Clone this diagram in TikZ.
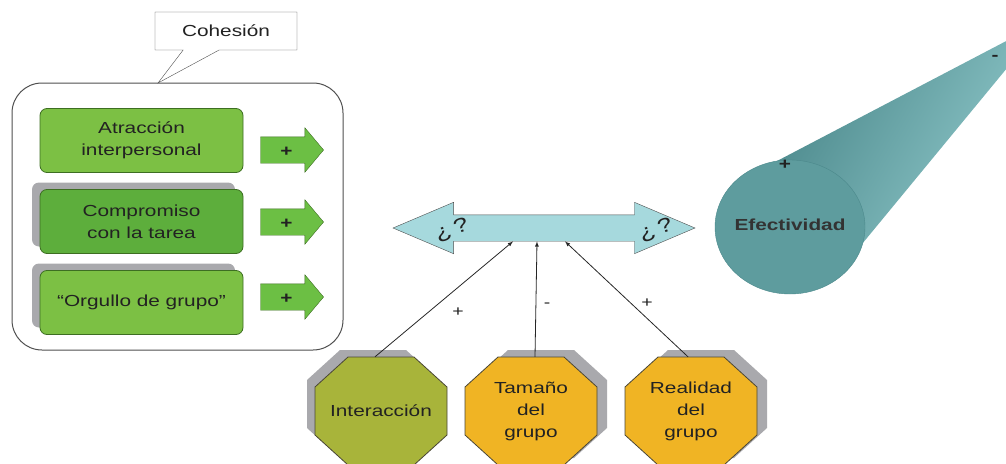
\documentclass[tikz,border=0pt]{standalone}
\usepackage{fontspec}
\setmainfont[FakeStretch=1.3]{Liberation Sans}
\usetikzlibrary{shapes.arrows,shapes.callouts,shadows}
\definecolor{boxgreen}{HTML}{7CC044}
\definecolor{boxgreendark}{HTML}{5DAE3C}
\definecolor{boxborder}{HTML}{3D6E22}
\definecolor{arrowgreen}{HTML}{6CBF44}
\definecolor{olivefill}{HTML}{A8B43A}
\definecolor{amberfill}{HTML}{F0B424}
\definecolor{octborder}{HTML}{4A4636}
\definecolor{cyanfill}{HTML}{A6D9DD}
\definecolor{shadowgray}{HTML}{A9A9AD}
\definecolor{framegray}{HTML}{4F4F4F}
\definecolor{tealface}{HTML}{5E9C9E}
\definecolor{tealdark}{HTML}{4C898C}
\definecolor{teallight}{HTML}{8CC5C7}
\definecolor{textdark}{HTML}{222222}

\begin{document}
\begin{tikzpicture}[x=1pt,y=-1pt,font=\fontsize{16}{22}\selectfont,text=textdark,
    greenbox/.style={draw=boxborder,fill=#1,rounded corners=7pt,minimum width=203pt,
      minimum height=64pt,align=center,line width=0.8pt},
    plusarrow/.style={single arrow,draw=boxborder,fill=arrowgreen,minimum height=63pt,
      minimum width=44pt,single arrow head extend=9pt,single arrow tip angle=100,
      inner xsep=0pt,inner ysep=7pt,text height=12pt,text depth=0pt,
      font=\fontsize{16}{16}\selectfont\bfseries},
    octtext/.style={minimum width=132pt,minimum height=108pt,inner sep=0pt,align=center},
    grayshadow/.style={general shadow={fill=shadowgray,shadow xshift=#1,shadow yshift=7pt}},
    link/.style={-latex,line width=0.8pt,draw=black!85},
    sign/.style={font=\fontsize{15}{15}\selectfont},
    query/.style={rotate=20,inner sep=0pt,font=\fontsize{20}{20}\selectfont}]
  \useasboundingbox (0,0) rectangle (1006,463);
  \clip (0,0) rectangle (1006,463);

  \node[draw=framegray,rounded corners=30pt,minimum width=331pt,minimum height=267pt,line width=1pt] (frame) at (177.5,216.5) {};
  \node[rectangle callout,draw=framegray,fill=white,callout absolute pointer={(158,83)},
    callout pointer width=36pt,minimum width=142pt,minimum height=38pt] (cohes) at (226,31) {Cohesión};

  \node[greenbox=boxgreen] (atrac) at (141.5,140.5) {Atracción\\interpersonal};
  \node[greenbox=boxgreendark,grayshadow=-8pt] (compr) at (141.5,221.5) {Compromiso\\con la tarea};
  \node[greenbox=boxgreen,grayshadow=-8pt] (orgul) at (141.5,302.5) {“Orgullo de grupo”};

  \foreach \y/\name in {150/pa,222/pb,297/pc}
    \node[plusarrow] (\name) at (286.5,\y) {+};

  \node[double arrow,draw=framegray,fill=cyanfill,minimum height=302pt,minimum width=51pt,
    double arrow head extend=12.5pt,double arrow tip angle=46,inner xsep=0pt,inner ysep=13pt] (dbl) at (544,228) {};
  \node[query] (ql) at (452,230) {¿\kern4pt?};
  \node[query] (qr) at (656,230) {¿\kern4pt?};

  \foreach \cx/\col/\sx in {381/olivefill/-8,531/amberfill/10,691/amberfill/10}
    \draw[draw=octborder,fill=\col,line width=0.8pt,grayshadow=\sx pt]
      (\cx-66,387) -- (\cx-33,357) -- (\cx+33,357) -- (\cx+66,387) -- (\cx+66,435)
      -- (\cx+33,465) -- (\cx-33,465) -- (\cx-66,435) -- cycle;
  \node[octtext] (inter) at (381,411) {Interacción};
  \node[octtext] (tam) at (531,411) {Tamaño\\del\\grupo};
  \node[octtext] (real) at (691,411) {Realidad\\del\\grupo};

  \draw[link] ([xshift=-6pt]inter.north) -- ([xshift=-31pt]dbl.south);
  \draw[link] ([xshift=4pt]tam.north) -- ([xshift=-7pt]dbl.south);
  \draw[link] ([xshift=-3pt]real.north) -- ([xshift=21pt]dbl.south);
  \node[sign] (s1) at (458,312) {+};
  \node[sign] (s2) at (547,305) {-};
  \node[sign] (s3) at (647,303) {+};

  \shade[left color=tealdark,right color=teallight,shading angle=60]
    (777,161) -- (1012,38) -- (1012,62) -- (862,244) -- (790,227) -- cycle;
  \fill[tealface,draw=tealdark,thin] (790,227) ellipse [x radius=75,y radius=67];
  \node[font=\fontsize{16}{16}\selectfont\bfseries,text=black!80] (efect) at (790,225) {Efectividad};
  \node[font=\fontsize{16}{16}\selectfont\bfseries] (pl) at (785,165) {+};
  \node[font=\fontsize{16}{16}\selectfont\bfseries] (mn) at (995,58) {-};
\end{tikzpicture}
\end{document}
